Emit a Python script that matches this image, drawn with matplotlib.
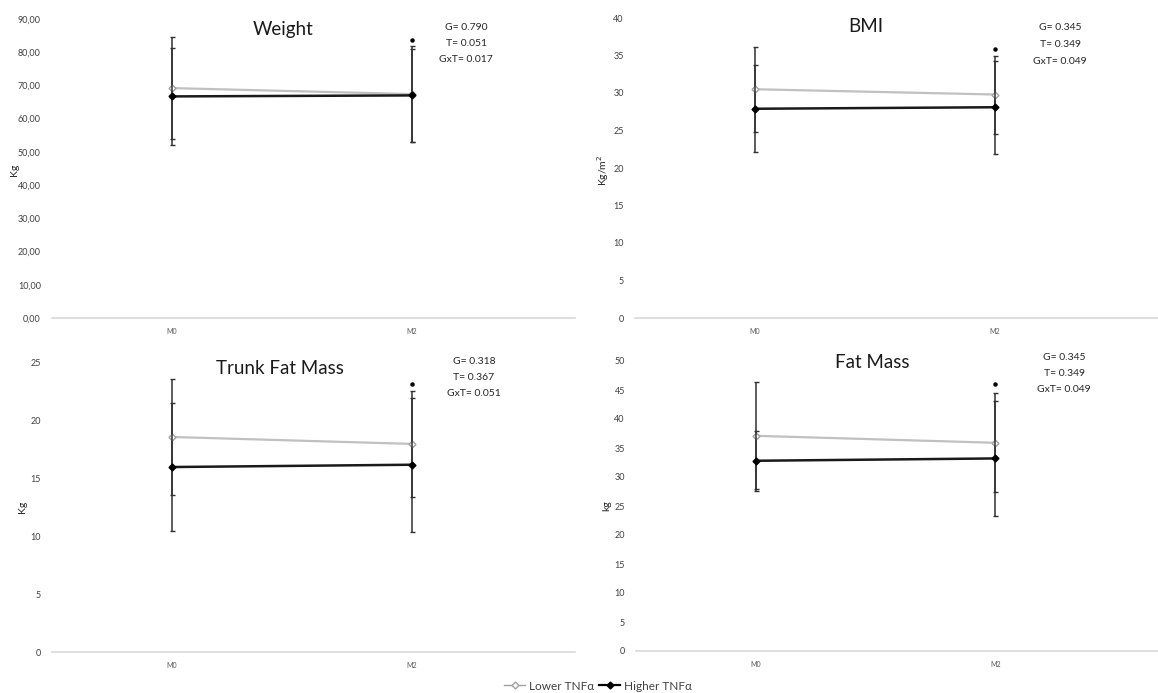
import numpy as np
import matplotlib.pyplot as plt

plt.rcParams['font.family'] = ['Lato', 'DejaVu Sans']

# data
times = ['M0', 'M2']
series = ['Lower TNFα', 'Higher TNFα']

weight_lower = [69.2, 67.4]
weight_lower_sd = [15.3, 14.5]
weight_higher = [66.7, 67.0]
weight_higher_sd = [14.7, 14.0]

bmi_lower = [30.5, 29.8]
bmi_lower_sd = [5.7, 5.2]
bmi_higher = [27.9, 28.1]
bmi_higher_sd = [5.8, 6.2]

trunk_lower = [18.6, 18.0]
trunk_lower_sd = [5.0, 4.6]
trunk_higher = [16.0, 16.2]
trunk_higher_sd = [5.5, 5.8]

fat_lower = [37.1, 35.9]
fat_lower_sd = [9.2, 8.5]
fat_higher = [32.8, 33.2]
fat_higher_sd = [5.2, 9.9]

titles = ['Weight', 'BMI', 'Trunk Fat Mass', 'Fat Mass']
ylabels = ['Kg', 'Kg/m$^2$', 'Kg', 'kg']
ymax = [90, 40, 25, 50]
ystep = [10, 5, 5, 5]
stats = [['G= 0.790', 'T= 0.051', 'GxT= 0.017'],
         ['G= 0.345', 'T= 0.349', 'GxT= 0.049'],
         ['G= 0.318', 'T= 0.367', 'GxT= 0.051'],
         ['G= 0.345', 'T= 0.349', 'GxT= 0.049']]
star_y = [83.7, 35.9, 23.2, 46.0]  # significance dot above M2

panels = [(weight_lower, weight_lower_sd, weight_higher, weight_higher_sd),
          (bmi_lower, bmi_lower_sd, bmi_higher, bmi_higher_sd),
          (trunk_lower, trunk_lower_sd, trunk_higher, trunk_higher_sd),
          (fat_lower, fat_lower_sd, fat_higher, fat_higher_sd)]

W, H = 1158, 693
fig = plt.figure(figsize=(W/100, H/100), dpi=100)

# axes boxes in pixels: left, top, right, bottom
boxes = [(52, 19, 575, 318), (635, 18, 1158, 318),
         (52, 363, 575, 652), (636, 361, 1158, 651)]
title_pos = [(283, 29), (866, 27), (280, 369), (872, 363)]
stat_pos = [(466, 27), (1060, 28), (474, 361), (1064, 357)]
ylab_pos = [(15, 170), (603, 170), (23, 507), (607, 506)]

x = np.arange(len(times))
handles = None
for i, (lo, lo_sd, hi, hi_sd) in enumerate(panels):
    l, t, r, b = boxes[i]
    ax = fig.add_axes([l/W, 1-b/H, (r-l)/W, (b-t)/H])
    ax.errorbar(x, lo, yerr=lo_sd, color='#c0c0c0', marker='D', ms=3.5,
                mfc='white', mec='#a0a0a0', lw=1.6, ecolor='#303030',
                elinewidth=1.1, capsize=1.8, zorder=2)
    ax.errorbar(x, hi, yerr=hi_sd, color='#1a1a1a', marker='D', ms=3.5,
                mfc='black', mec='black', lw=1.8, ecolor='#303030',
                elinewidth=1.1, capsize=1.8, zorder=3)
    ax.plot([x[1]], [star_y[i]], marker='o', ms=2.2, color='black', ls='none')
    ax.set_xlim(-0.5, 1.68)
    ax.set_ylim(0, ymax[i])
    ticks = np.arange(0, ymax[i] + 0.1, ystep[i])
    ax.set_yticks(ticks)
    if i == 0:
        ax.set_yticklabels([f'{v:.2f}'.replace('.', ',') for v in ticks])
    ax.set_xticks(x)
    ax.set_xticklabels(times)
    for s in ['top', 'right', 'left']:
        ax.spines[s].set_visible(False)
    ax.spines['bottom'].set_color('#d9d9d9')
    ax.spines['bottom'].set_linewidth(1.2)
    ax.tick_params(axis='y', length=0, pad=8, labelsize=6.5, labelcolor='#404040')
    ax.tick_params(axis='x', length=0, pad=7, labelsize=5, labelcolor='#595959')
    ax.patch.set_alpha(0)

    fig.text(title_pos[i][0]/W, 1-title_pos[i][1]/H, titles[i], fontsize=13.5,
             ha='center', va='center', color='#1a1a1a')
    for k, line in enumerate(stats[i]):
        fig.text(stat_pos[i][0]/W, 1-(stat_pos[i][1] + k*16.5)/H, line,
                 fontsize=7.5, ha='center', va='center', color='#262626')
    fig.text(ylab_pos[i][0]/W, 1-ylab_pos[i][1]/H, ylabels[i], rotation=90,
             fontsize=7.5, ha='center', va='center', color='#262626')
    if handles is None:
        handles = ax.get_legend_handles_labels()

from matplotlib.lines import Line2D
leg_handles = [Line2D([], [], color='#a0a0a0', marker='D', ms=3.5, mfc='white',
                      mec='#a0a0a0', lw=1.0),
               Line2D([], [], color='black', marker='D', ms=3.5, mfc='black',
                      lw=1.6)]
fig.legend(leg_handles, series, loc='center', bbox_to_anchor=(598/W, 1-686/H),
           ncol=2, frameon=False, fontsize=8.5, handlelength=1.8,
           handletextpad=0.3, columnspacing=0.4, labelcolor='#404040')

fig.savefig('out.png', dpi=100, facecolor='white')
